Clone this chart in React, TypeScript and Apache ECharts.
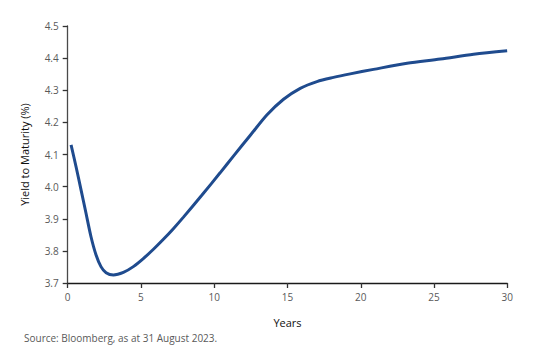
import React, { useEffect, useRef } from "react";
import * as echarts from "echarts";

const years = [0.23, 0.57, 0.91, 1.25, 1.59, 1.93, 2.27, 2.62, 3.12, 3.8, 4.48, 5.16, 5.85, 6.53, 7.21, 7.9, 9.15, 10.4, 11.31, 12.45, 13.59, 14.73, 15.87, 17.01, 18.14, 19.28, 20.87, 23.16, 25.43, 27.7, 29.99];
const yields = [4.13, 4.062, 3.99, 3.917, 3.844, 3.788, 3.751, 3.732, 3.725, 3.733, 3.751, 3.776, 3.805, 3.836, 3.869, 3.905, 3.973, 4.043, 4.095, 4.159, 4.223, 4.272, 4.306, 4.327, 4.34, 4.351, 4.365, 4.384, 4.397, 4.412, 4.423];
const xTicks = [0, 5, 10, 15, 20, 25, 30];
const yTicks = [3.7, 3.8, 3.9, 4.0, 4.1, 4.2, 4.3, 4.4, 4.5];
const yAxisTitle = "Yield to Maturity (%)";
const xAxisTitle = "Years";
const sourceText = "Source: Bloomberg, as at 31 August 2023.";

const FONT = "'Open Sans', 'Noto Sans', sans-serif";

export default function App() {
  const ref = useRef<HTMLDivElement>(null);
  useEffect(() => {
    if (!ref.current) return;
    const chart = echarts.init(ref.current, undefined, { renderer: "svg" });
    chart.setOption({
      animation: false,
      grid: { left: 67.7, right: 33.7, top: 26, bottom: 79, containLabel: false },
      xAxis: {
        type: "value",
        min: xTicks[0],
        max: xTicks[xTicks.length - 1],
        interval: 5,
        name: xAxisTitle,
        nameLocation: "middle",
        nameGap: 34,
        nameTextStyle: { color: "#111", fontSize: 11, fontFamily: FONT },
        axisLine: { show: true, lineStyle: { color: "#1a1a1a", width: 1.3 } },
        axisTick: { show: true, length: 5, lineStyle: { color: "#333", width: 1.3 } },
        axisLabel: { color: "#595959", fontSize: 10, fontFamily: FONT, margin: 9 },
        splitLine: { show: false },
      },
      yAxis: {
        type: "value",
        min: yTicks[0],
        max: yTicks[yTicks.length - 1],
        interval: 0.1,
        name: yAxisTitle,
        nameLocation: "middle",
        nameGap: 38,
        nameRotate: 90,
        nameTextStyle: { color: "#111", fontSize: 11, fontFamily: FONT },
        axisLine: { show: true, lineStyle: { color: "#4a4a4a", width: 1.3 } },
        axisTick: { show: true, length: 5, lineStyle: { color: "#333", width: 1.3 } },
        axisLabel: {
          color: "#595959",
          fontSize: 10,
          fontFamily: FONT,
          margin: 9,
          formatter: (v: number) => v.toFixed(1),
        },
        splitLine: { show: false },
      },
      series: [
        {
          type: "line",
          data: years.map((x, i) => [x, yields[i]]),
          smooth: 0.3,
          showSymbol: false,
          symbol: "none",
          lineStyle: { color: "#1f4b8e", width: 3 },
        },
      ],
      graphic: [
        {
          type: "text",
          left: 24,
          top: 333,
          style: { text: sourceText, fill: "#595959", fontSize: 10, fontFamily: FONT },
        },
      ],
    });
    return () => chart.dispose();
  }, []);
  return <div ref={ref} style={{ width: 541, height: 362, position: "absolute", left: 0, top: 0 }} />;
}
